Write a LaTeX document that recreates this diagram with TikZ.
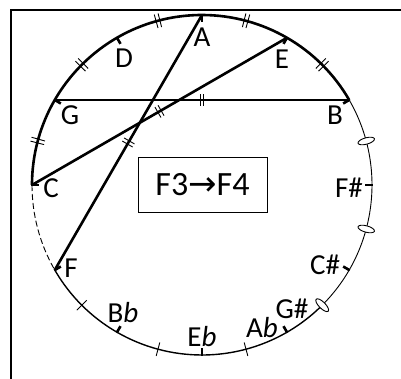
\documentclass[tikz,border=0pt]{standalone}
\usepackage{fontspec}
\setmainfont{Carlito}
\newfontfamily\arrowfont{DejaVu Sans}
\usetikzlibrary{calc}

\begin{document}
\begin{tikzpicture}[x=1pt, y=1pt,
    heavy/.style={line width=2.6pt},
    medium/.style={line width=1.4pt},
    light/.style={line width=0.9pt},
    notelbl/.style={font=\fontsize{29}{29}\selectfont, inner sep=0pt}]
  \useasboundingbox (-202,-194) rectangle (199,185);
  \draw[line width=2pt] (-191,-194) -- (-191,175) -- (199,175);
  % points on the circle
  \foreach \n/\a in {A/90,E/60,B/30,Fs/0,Cs/-30,Gs/-60,Eb/-90,Bb/-120,F/-150,C/180,G/150,D/120}
    \coordinate (p\n) at (\a:170);
  % arcs
  \draw[heavy] (pC) arc[start angle=180, end angle=30, radius=170];
  \draw[light, dash pattern=on 6pt off 3pt] (pC) arc[start angle=180, end angle=210, radius=170];
  \draw[medium] (pF) arc[start angle=210, end angle=315, radius=170];
  \draw[light] (-45:170) arc[start angle=315, end angle=390, radius=170];
  % note ticks
  \foreach \a in {90,60,30,0,-30,-60,-90,-120,-150,180,150,120}
    \draw[heavy] (\a:170.5) -- (\a:163);
  % double marks on the heavy arc
  \foreach \a in {165,135,105,75,45} {
    \draw[light] (\a+0.65:163) -- (\a+0.65:177);
    \draw[light] (\a-0.65:163) -- (\a-0.65:177);
  }
  % single marks
  \foreach \a in {-75,-105,-135}
    \draw[light] (\a:163) -- (\a:177);
  % open marks
  \foreach \a in {15,-15,-45}
    \draw[light, fill=white, rotate=\a] (170,0) ellipse[x radius=8.5, y radius=3.2];
  % chords
  \draw[heavy] (pG) -- (pB);
  \draw[heavy] (pC) -- (pE);
  \draw[heavy] (pF) -- (pA);
  \foreach \m in {90,120,150} {
    \draw[light, rotate=\m] (79,-1.8) -- (91,-1.8);
    \draw[light, rotate=\m] (79,1.8) -- (91,1.8);
  }
  % labels
  \node[notelbl] (lA)  at (0,147.5)  {A};
  \node[notelbl] (lD)  at (-78,127)  {D};
  \node[notelbl] (lE)  at (80,126)   {E};
  \node[notelbl] (lG)  at (-132,70)  {G};
  \node[notelbl] (lB)  at (133,70)   {B};
  \node[notelbl] (lC)  at (-151,-3)  {C};
  \node[notelbl] (lF)  at (-131,-83) {F};
  \node[notelbl] (lFs) at (147,-3)   {F\#};
  \node[notelbl] (lCs) at (123,-80)  {C\#};
  \node[notelbl] (lGs) at (90,-124)  {G\#};
  \node[notelbl] (lAb) at (60,-143)  {A\textit{b}};
  \node[notelbl] (lEb) at (0,-152)   {E\textit{b}};
  \node[notelbl] (lBb) at (-79,-128) {B\textit{b}};
  \node[draw, line width=0.9pt, minimum width=129, minimum height=55,
        font=\fontsize{34}{34}\selectfont] (title) at (0.5,0.5) {F3{\arrowfont→}F4};
\end{tikzpicture}
\end{document}
